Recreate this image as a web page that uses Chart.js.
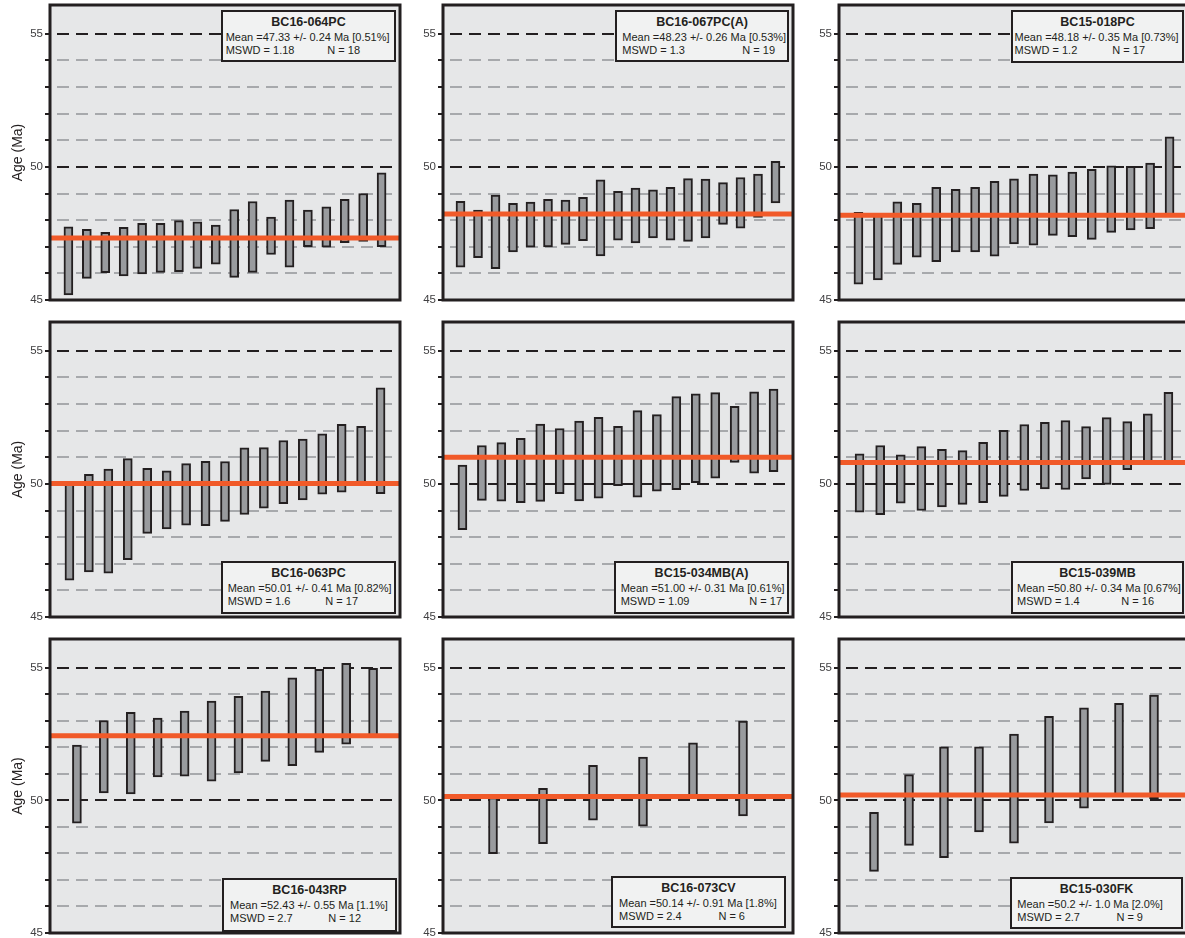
<!DOCTYPE html>
<html>
<head>
<meta charset="utf-8">
<title>Weighted mean ages</title>
<script src="https://cdn.jsdelivr.net/npm/chart.js@4.4.1/dist/chart.umd.min.js"></script>
<style>
  html, body { margin: 0; padding: 0; background: #ffffff; }
  body { position: relative; width: 1185px; height: 938px; overflow: hidden; }
  canvas.panel { position: absolute; }
  .info {
    position: absolute; box-sizing: border-box;
    background: #f1f2f2; border: 2px solid #231f20;
    font-family: 'Liberation Sans', Arial, sans-serif; color: #231f20;
  }
  .info div { position: absolute; white-space: nowrap; }
  .info .ttl { left: 0; right: 0; text-align: center; font-weight: bold; font-size: 12.5px; line-height: 14px; }
  .info .ln { font-size: 11px; line-height: 12px; }
</style>
</head>
<body>
<script>
// ---- axis ----
const ageTicks = [45, 46, 47, 48, 49, 50, 51, 52, 53, 54, 55];
const labelledAges = [45, 50, 55];
const ageMin = 45;
const ageMax = 56.08;

// ---- samples ----
const sampleNames = ['BC16-064PC', 'BC16-067PC(A)', 'BC15-018PC',
                     'BC16-063PC', 'BC15-034MB(A)', 'BC15-039MB',
                     'BC16-043RP', 'BC16-073CV', 'BC15-030FK'];
const meanAgeText = ['47.33', '48.23', '48.18', '50.01', '51.00', '50.80', '52.43', '50.14', '50.2'];
const meanErrText = ['0.24', '0.26', '0.35', '0.41', '0.31', '0.34', '0.55', '0.91', '1.0'];
const meanPctText = ['0.51%', '0.53%', '0.73%', '0.82%', '0.61%', '0.67%', '1.1%', '1.8%', '2.0%'];
const mswdText    = ['1.18', '1.3', '1.2', '1.6', '1.09', '1.4', '2.7', '2.4', '2.7'];

// individual analyses, [low, high] of each error bar (Ma)
const agesBC16_064PC = [[45.19,47.75],[45.81,47.65],[46.03,47.54],[45.90,47.73],[45.98,47.88],[46.04,47.88],
  [46.06,47.98],[46.19,47.94],[46.35,47.81],[45.85,48.40],[46.04,48.70],[46.71,48.11],[46.23,48.75],
  [47.00,48.38],[46.98,48.50],[47.15,48.78],[47.20,49.00],[47.00,49.78]];
const agesBC16_067PCA = [[46.23,48.71],[46.59,48.38],[46.18,48.94],[46.81,48.63],[46.98,48.68],[46.99,48.78],
  [47.09,48.75],[47.23,48.86],[46.66,49.51],[47.25,49.08],[47.14,49.20],[47.33,49.14],[47.25,49.23],
  [47.20,49.56],[47.33,49.54],[47.84,49.41],[47.70,49.60],[48.10,49.73],[48.65,50.21]];
const agesBC15_018PC = [[45.59,48.29],[45.75,48.19],[46.34,48.69],[46.61,48.63],[46.44,49.23],[46.81,49.16],
  [46.81,49.23],[46.65,49.46],[47.11,49.55],[47.06,49.73],[47.43,49.70],[47.38,49.80],[47.28,49.91],
  [47.54,50.04],[47.63,50.02],[47.68,50.14],[48.19,51.13]];
const agesBC16_063PC = [[46.38,50.00],[46.69,50.36],[46.65,50.56],[47.15,50.95],[48.14,50.58],[48.31,50.49],
  [48.45,50.76],[48.43,50.85],[48.59,50.84],[48.85,51.35],[49.09,51.36],[49.26,51.63],[49.40,51.68],
  [49.61,51.88],[49.69,52.24],[49.98,52.16],[49.63,53.61]];
const agesBC15_034MBA = [[48.28,50.71],[49.38,51.44],[49.35,51.55],[49.29,51.71],[49.34,52.25],[49.63,52.08],
  [49.36,52.36],[49.46,52.50],[49.93,52.16],[49.50,52.75],[49.73,52.60],[49.78,53.28],[50.05,53.38],
  [50.21,53.43],[50.81,52.91],[50.40,53.46],[50.46,53.56]];
const agesBC15_039MB = [[48.94,51.13],[48.84,51.44],[49.28,51.09],[49.00,51.40],[49.13,51.30],[49.23,51.25],
  [49.29,51.56],[49.53,52.01],[49.75,52.23],[49.81,52.31],[49.79,52.38],[50.19,52.15],[49.98,52.49],
  [50.53,52.34],[50.81,52.63],[50.78,53.44]];
const agesBC16_043RP = [[49.14,52.08],[50.28,53.01],[50.24,53.32],[50.88,53.10],[50.91,53.36],[50.72,53.74],
  [51.03,53.92],[51.47,54.12],[51.31,54.62],[51.81,54.94],[52.12,55.16],[52.42,54.97]];
const agesBC16_073CV = [[47.99,50.10],[48.37,50.45],[49.25,51.32],[49.03,51.63],[50.13,52.17],[49.41,52.99]];
const agesBC15_030FK = [[47.32,49.55],[48.30,50.97],[47.84,52.02],[48.81,52.02],[48.39,52.50],[49.15,53.17],
  [49.70,53.49],[50.20,53.66],[50.06,53.97]];

const sampleAges = [agesBC16_064PC, agesBC16_067PCA, agesBC15_018PC,
                    agesBC16_063PC, agesBC15_034MBA, agesBC15_039MB,
                    agesBC16_043RP, agesBC16_073CV, agesBC15_030FK];

// ---- page layout (pixels) ----
const plotLefts   = [50, 443, 839];
const plotRights  = [400, 793, 1189];
const plotTops    = [5, 322, 639];
const plotBottoms = [300, 617, 933];
const axisWidths  = [50, 40, 40];
const padV = 12;
// statistics boxes: outer rect, text start and right end of "N =" (relative to box)
const infoBoxes = [
  { x: 221,  y: 10,  w: 175, h: 52, tx: 4.7, nEnd: 139 },
  { x: 615,  y: 10,  w: 174, h: 52, tx: 7.3, nEnd: 160 },
  { x: 1011, y: 10,  w: 173, h: 53, tx: 3.6, nEnd: 134 },
  { x: 221,  y: 561, w: 175, h: 53, tx: 6.7, nEnd: 137 },
  { x: 614,  y: 561, w: 175, h: 53, tx: 6.7, nEnd: 168 },
  { x: 1011, y: 561, w: 173, h: 53, tx: 6.0, nEnd: 143 },
  { x: 222,  y: 878, w: 175, h: 54, tx: 8.0, nEnd: 139 },
  { x: 611,  y: 876, w: 175, h: 52, tx: 8.0, nEnd: 134 },
  { x: 1010, y: 877, w: 173, h: 52, tx: 7.3, nEnd: 133 }
];

const FONT = "'Liberation Sans', Arial, sans-serif";
const INK = '#231f20';

// background, weighted-mean line and frame of each plot
const panelDecor = {
  id: 'panelDecor',
  beforeDraw(chart) {
    const { ctx, chartArea: a } = chart;
    ctx.save();
    ctx.fillStyle = '#e6e7e8';
    ctx.fillRect(a.left, a.top, a.width, a.height);
    ctx.restore();
  },
  afterDatasetsDraw(chart, args, opts) {
    const { ctx, chartArea: a } = chart;
    const y = chart.scales.y.getPixelForValue(opts.mean);
    ctx.save();
    ctx.strokeStyle = '#f15a29';
    ctx.lineWidth = 5;
    ctx.beginPath();
    ctx.moveTo(a.left, y);
    ctx.lineTo(a.right, y);
    ctx.stroke();
    ctx.restore();
  },
  afterDraw(chart) {
    const { ctx, chartArea: a } = chart;
    ctx.save();
    ctx.strokeStyle = INK;
    ctx.lineWidth = 3;
    ctx.strokeRect(a.left, a.top, a.width, a.height);
    ctx.restore();
  }
};

function makePanel(i) {
  const col = i % 3, row = Math.floor(i / 3);
  const ages = sampleAges[i];
  const axisW = axisWidths[col];
  const plotW = plotRights[col] - plotLefts[col];
  const plotH = plotBottoms[row] - plotTops[row];

  const canvas = document.createElement('canvas');
  canvas.className = 'panel';
  const cw = axisW + plotW + 4;
  const ch = plotH + 2 * padV;
  canvas.width = cw; canvas.height = ch;
  canvas.style.width = cw + 'px'; canvas.style.height = ch + 'px';
  canvas.style.left = (plotLefts[col] - axisW) + 'px';
  canvas.style.top = (plotTops[row] - padV) + 'px';
  document.body.appendChild(canvas);

  new Chart(canvas, {
    type: 'bar',
    data: {
      datasets: [{
        data: ages.map((r, k) => ({ x: k + 1, y: r })),
        backgroundColor: '#999b9e',
        borderColor: INK,
        borderWidth: 2,
        borderSkipped: false,
        barThickness: 9
      }]
    },
    options: {
      responsive: false,
      animation: false,
      devicePixelRatio: 1,
      layout: { padding: { top: padV, bottom: padV, left: 0, right: 4 } },
      plugins: {
        legend: { display: false },
        tooltip: { enabled: false },
        panelDecor: { mean: parseFloat(meanAgeText[i]) }
      },
      scales: {
        x: { type: 'linear', min: 0, max: ages.length + 1, offset: false, display: false },
        y: {
          min: ageMin, max: ageMax,
          afterFit(s) { s.width = axisW; },
          afterBuildTicks(s) { s.ticks = ageTicks.map(v => ({ value: v })); },
          ticks: {
            autoSkip: false,
            padding: 2,
            color: '#414042',
            font: { family: FONT, size: 11.5 },
            callback: v => labelledAges.includes(v) ? String(v) : ''
          },
          grid: {
            color: c => (c.tick && c.tick.value % 5 === 0) ? INK : '#a7a9ac',
            lineWidth: 2,
            tickLength: 5,
            tickWidth: 2,
            tickColor: INK,
            tickBorderDash: []
          },
          border: { display: false, dash: [12, 7], dashOffset: 12 },
          title: {
            display: col === 0,
            text: 'Age (Ma)',
            color: INK,
            font: { family: FONT, size: 14 },
            padding: { top: 10, bottom: 0 }
          }
        }
      }
    },
    plugins: [panelDecor]
  });

  // statistics box
  const b = infoBoxes[i];
  const box = document.createElement('div');
  box.className = 'info';
  Object.assign(box.style, { left: b.x + 'px', top: b.y + 'px', width: b.w + 'px', height: b.h + 'px' });
  const lines = [
    ['ttl', sampleNames[i], { top: '2.6px' }],
    ['ln', 'Mean =' + meanAgeText[i] + ' +/- ' + meanErrText[i] + ' Ma [' + meanPctText[i] + ']',
      { top: '19.4px', left: (b.tx - 2) + 'px' }],
    ['ln', 'MSWD = ' + mswdText[i], { top: '31.7px', left: (b.tx - 2) + 'px' }],
    ['ln', 'N = ' + ages.length, { top: '31.7px', right: (b.w - b.nEnd - 2) + 'px' }]
  ];
  for (const [cls, text, pos] of lines) {
    const d = document.createElement('div');
    d.className = cls;
    d.textContent = text;
    Object.assign(d.style, pos);
    box.appendChild(d);
  }
  document.body.appendChild(box);
}

for (let i = 0; i < sampleNames.length; i++) makePanel(i);
</script>
</body>
</html>
